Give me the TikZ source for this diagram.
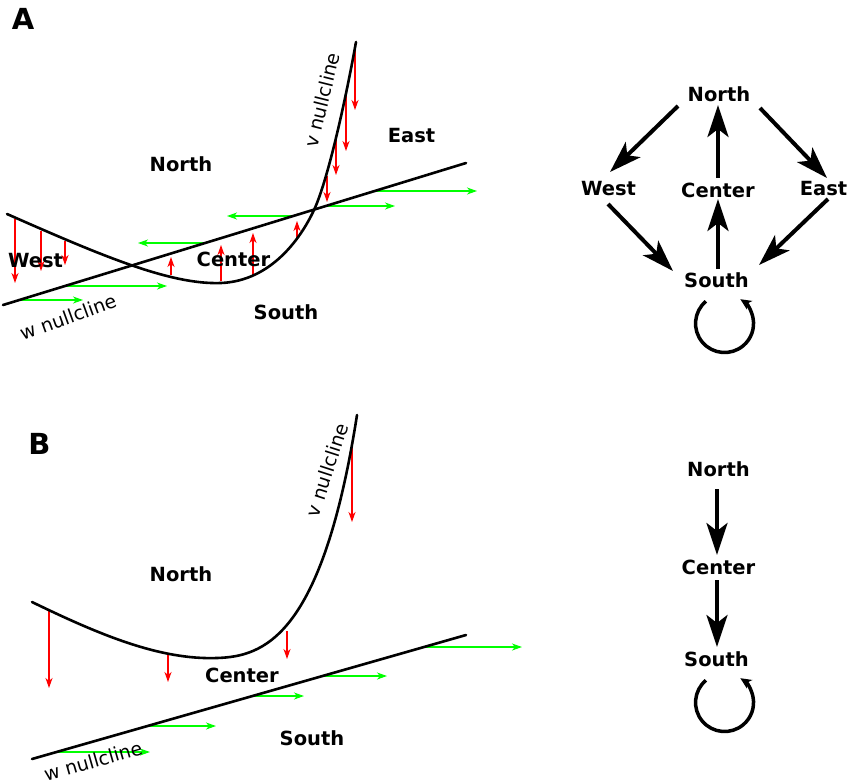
\documentclass[tikz,border=0pt]{standalone}
\usepackage{fontspec}
\setmainfont{DejaVu Sans}
\usetikzlibrary{arrows.meta}
\begin{document}
\begin{tikzpicture}[x=1pt,y=-1pt,
  state/.style={font=\fontsize{19.5}{22}\selectfont\bfseries, inner sep=0pt},
  panel/.style={font=\fontsize{29}{32}\selectfont\bfseries, inner sep=0pt},
  lbl/.style={font=\fontsize{19}{22}\selectfont, inner sep=0pt},
  cline/.style={line width=2.6pt, line cap=round},
  vfield/.style={red, line width=1.3pt, -{Stealth[length=10pt,width=7pt,inset=3pt]}},
  wfield/.style={green, line width=1.3pt, -{Stealth[length=10pt,width=7pt,inset=3pt]}},
  trans/.style={line width=4pt, -{Stealth[length=32pt,width=21pt,inset=8pt]}},
  loopy/.style={line width=3.5pt, -{Stealth[length=11pt,width=10pt,inset=3pt]}},
]
\useasboundingbox (0,0) rectangle (850,782);

% ---------- panel A: phase plane ----------
\node[panel] (pA) at (23,18.5) {A};

% vector field along the v nullcline (vertical, red)
\foreach \x/\ya/\yb in {15/219/283, 41/231/271, 65/241/265,
                         171/275/257, 221/281/245, 253/276/233, 297/239/221,
                         355/44/110, 346/95/151, 336/140/175, 327/176/202}
  \draw[vfield] (\x,\ya) -- (\x,\yb);

% vector field along the w nullcline (horizontal, green)
\foreach \y/\xa/\xb in {300/20/83, 286/67/167, 243/205/138,
                        216/293/227, 206/326/395, 191/375/477}
  \draw[wfield] (\xa,\y) -- (\xb,\y);

% nullclines
\draw[cline] (3,305) -- (466,163);
\draw[cline] (7,214) .. controls (100,255) and (170,285) .. (221,283)
                     .. controls (270,281) and (300,240) .. (314,210)
                     .. controls (328,180) and (346,98) .. (356,42);

\node[lbl, rotate=76] (vA) at (322,100) {v nullcline};
\node[lbl, rotate=20] (wA) at (68,317) {w nullcline};

\node[state] (aN) at (181,164.5) {North};
\node[state] (aE) at (411.5,135.5) {East};
\node[state] (aW) at (35.5,260.5) {West};
\node[state] (aC) at (233.5,259.5) {Center};
\node[state] (aS) at (286,312) {South};

% ---------- panel A: transition graph ----------
\node[state] (gN) at (719,94.5) {North};
\node[state] (gW) at (608.5,188.5) {West};
\node[state] (gC) at (718,190) {Center};
\node[state] (gE) at (823.5,188.5) {East};
\node[state] (gS) at (716.5,280.5) {South};

\draw[trans] ([shift={(-41,11.5)}]gN.center) -- ([shift={(1.5,-16.5)}]gW.center);
\draw[trans] ([shift={(41,13.5)}]gN.center) -- ([shift={(3.5,-10.5)}]gE.center);
\draw[trans] ([shift={(0,-12)}]gC.center) -- ([shift={(-1,10.5)}]gN.center);
\draw[trans] ([shift={(-0.5,15.5)}]gW.center) -- ([shift={(-43.5,-9.5)}]gS.center);
\draw[trans] ([shift={(4.5,10.5)}]gE.center) -- ([shift={(42.5,-15.5)}]gS.center);
\draw[trans] ([shift={(1.5,-11.5)}]gS.center) -- ([shift={(0,9)}]gC.center);
\draw[loopy] ([shift={(-10.6,20.8)}]gS.center)
  arc[start angle=230, end angle=-57, x radius=29, y radius=29];

% ---------- panel B: phase plane ----------
\node[panel] (pB) at (39.5,444) {B};

\foreach \x/\ya/\yb in {49/610/688, 168/653/682, 287/631/659, 352/448/522}
  \draw[vfield] (\x,\ya) -- (\x,\yb);

\foreach \y/\xa/\xb in {752/56/150, 726/149/216, 696/254/304,
                        676/324/387, 647/426/522}
  \draw[wfield] (\xa,\y) -- (\xb,\y);

\draw[cline] (32,759) -- (466,635);
\draw[cline] (32,602) .. controls (100,635) and (160,660) .. (217,658)
                      .. controls (262.6,656.4) and (322,639) .. (357,415);

\node[lbl, rotate=72] (vB) at (327,470) {v nullcline};
\node[lbl, rotate=16] (wB) at (93,761) {w nullcline};

\node[state] (bN) at (181,574) {North};
\node[state] (bC) at (242,675.5) {Center};
\node[state] (bS) at (312,738) {South};

% ---------- panel B: transition graph ----------
\node[state] (hN) at (718.5,469.5) {North};
\node[state] (hC) at (718.5,567.5) {Center};
\node[state] (hS) at (716.5,659.5) {South};

\draw[trans] ([shift={(-1.5,19.5)}]hN.center) -- ([shift={(-1.5,-12.5)}]hC.center);
\draw[trans] ([shift={(-1.5,12.5)}]hC.center) -- ([shift={(0.5,-12.5)}]hS.center);
\draw[loopy] ([shift={(-10.6,20.8)}]hS.center)
  arc[start angle=230, end angle=-57, x radius=29, y radius=29];
\end{tikzpicture}
\end{document}
